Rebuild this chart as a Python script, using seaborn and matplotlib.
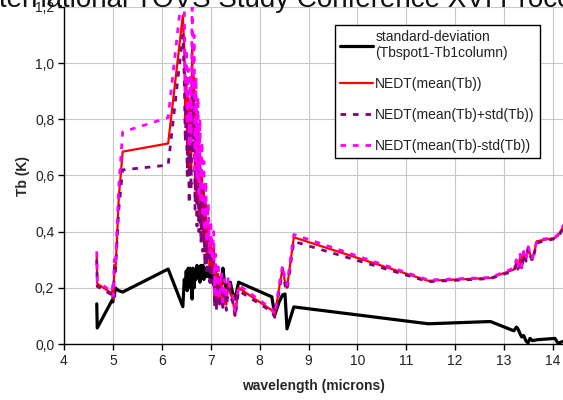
import matplotlib
matplotlib.use("Agg")
import matplotlib.pyplot as plt
import seaborn as sns
import pandas as pd

# ---- data ----
wavelength = [4.67, 4.68, 4.98, 5.00, 5.01, 5.03, 5.05, 5.08, 5.12, 5.20, 6.13, 6.43,
              6.46, 6.48, 6.50, 6.52, 6.54, 6.56, 6.58, 6.60, 6.62, 6.64, 6.66, 6.68,
              6.70, 6.72, 6.74, 6.76, 6.78, 6.80, 6.82, 6.84, 6.86, 6.88, 6.90, 6.92,
              6.95, 6.98, 7.00, 7.03, 7.06, 7.08, 7.10, 7.12, 7.15, 7.18, 7.22, 7.25,
              7.28, 7.32, 7.36, 7.40, 7.45, 7.50, 7.57, 8.25, 8.31, 8.40, 8.47, 8.52,
              8.56, 8.70, 11.45, 12.72, 13.20, 13.25, 13.28, 13.33, 13.36, 13.40, 13.45,
              13.49, 13.53, 13.58, 13.67, 14.04, 14.10, 14.22]

std_dev = [0.143, 0.057, 0.155, 0.150, 0.190, 0.170, 0.200, 0.195, 0.190, 0.185, 0.267, 0.133,
           0.230, 0.200, 0.260, 0.190, 0.270, 0.200, 0.270, 0.220, 0.160, 0.270, 0.200, 0.260,
           0.230, 0.280, 0.240, 0.270, 0.220, 0.280, 0.250, 0.280, 0.230, 0.270, 0.240, 0.260,
           0.240, 0.270, 0.220, 0.250, 0.210, 0.270, 0.260, 0.200, 0.240, 0.200, 0.210, 0.270,
           0.220, 0.200, 0.210, 0.220, 0.180, 0.160, 0.220, 0.168, 0.103, 0.150, 0.175, 0.178,
           0.054, 0.132, 0.072, 0.080, 0.047, 0.060, 0.055, 0.035, 0.025, 0.030, 0.010,
           0.004, 0.020, 0.012, 0.015, 0.020, 0.003, 0.010]

nedt_mean = [0.310, 0.215, 0.180, 0.200, 0.160, 0.280, 0.260, 0.360, 0.520, 0.685, 0.714, 1.170,
             1.050, 0.800, 0.950, 0.680, 0.880, 0.600, 0.850, 0.620, 1.060, 0.750, 0.950, 0.550,
             0.850, 0.500, 0.780, 0.450, 0.700, 0.420, 0.620, 0.380, 0.550, 0.330, 0.500, 0.300,
             0.420, 0.260, 0.380, 0.250, 0.340, 0.150, 0.280, 0.140, 0.250, 0.140, 0.230, 0.130,
             0.200, 0.140, 0.220, 0.180, 0.160, 0.100, 0.200, 0.120, 0.100, 0.200, 0.270, 0.220,
             0.200, 0.380, 0.225, 0.235, 0.265, 0.290, 0.265, 0.310, 0.270, 0.325, 0.300,
             0.347, 0.320, 0.300, 0.366, 0.378, 0.385, 0.420]

nedt_plus = [0.300, 0.205, 0.175, 0.190, 0.150, 0.270, 0.250, 0.350, 0.480, 0.620, 0.637, 1.100,
             0.950, 0.720, 0.850, 0.600, 0.780, 0.500, 0.750, 0.550, 0.950, 0.680, 0.880, 0.480,
             0.780, 0.420, 0.700, 0.400, 0.640, 0.360, 0.550, 0.330, 0.500, 0.280, 0.450, 0.260,
             0.380, 0.220, 0.330, 0.220, 0.300, 0.130, 0.250, 0.120, 0.220, 0.130, 0.210, 0.120,
             0.180, 0.120, 0.200, 0.170, 0.150, 0.095, 0.190, 0.115, 0.095, 0.190, 0.260, 0.210,
             0.190, 0.365, 0.222, 0.233, 0.260, 0.280, 0.260, 0.300, 0.265, 0.320, 0.295,
             0.340, 0.315, 0.295, 0.360, 0.375, 0.380, 0.415]

nedt_minus = [0.330, 0.225, 0.185, 0.210, 0.170, 0.300, 0.280, 0.400, 0.560, 0.755, 0.806, 1.280,
              1.200, 0.900, 1.050, 0.780, 0.980, 0.700, 0.950, 0.720, 1.220, 0.900, 1.100, 0.620,
              0.950, 0.580, 0.880, 0.520, 0.800, 0.500, 0.720, 0.450, 0.650, 0.400, 0.580, 0.360,
              0.500, 0.320, 0.440, 0.300, 0.400, 0.180, 0.320, 0.160, 0.290, 0.160, 0.260, 0.150,
              0.230, 0.160, 0.240, 0.200, 0.180, 0.110, 0.210, 0.125, 0.105, 0.210, 0.280, 0.230,
              0.210, 0.390, 0.228, 0.237, 0.270, 0.300, 0.270, 0.320, 0.275, 0.330, 0.305,
              0.350, 0.325, 0.305, 0.370, 0.380, 0.390, 0.425]

labels = ["standard-deviation\n(Tbspot1-Tb1column)", "NEDT(mean(Tb))",
          "NEDT(mean(Tb)+std(Tb))", "NEDT(mean(Tb)-std(Tb))"]
x_ticks = [4, 5, 6, 7, 8, 9, 10, 11, 12, 13, 14]
y_ticks = [0.0, 0.2, 0.4, 0.6, 0.8, 1.0, 1.2]
y_tick_labels = ["0,0", "0,2", "0,4", "0,6", "0,8", "1,0", "1,2"]
title_text = "International TOVS Study Conference XVI Proceedings"

df = pd.DataFrame({"wavelength": wavelength, "std": std_dev, "mean": nedt_mean,
                   "plus": nedt_plus, "minus": nedt_minus})

# ---- style ----
sns.set_style("white")
plt.rcParams["font.family"] = ["Liberation Sans", "DejaVu Sans"]

fig = plt.figure(figsize=(5.63, 4.0), dpi=100)
W, H = 563, 400
ax = fig.add_axes([64 / W, (H - 344) / H, (W - 64) / W, (344 - 7) / H])

series = [
    ("std", labels[0], "black", 2.3, "-"),
    ("mean", labels[1], "#FF0000", 1.6, "-"),
    ("plus", labels[2], "#800080", 2.0, (0, (2.0, 2.5))),
    ("minus", labels[3], "#FF00FF", 2.0, (0, (2.0, 2.5))),
]
for col, lab, color, lw, ls in series:
    sns.lineplot(data=df, x="wavelength", y=col, sort=False, estimator=None,
                 color=color, lw=lw, linestyle=ls, label=lab, ax=ax)

ax.set_xlim(4, 4 + (W - 64) / 48.9)
ax.set_ylim(0, 1.2)
ax.set_xticks(x_ticks)
ax.set_xticklabels([str(t) for t in x_ticks])
ax.set_yticks(y_ticks)
ax.set_yticklabels(y_tick_labels)
ax.grid(True, color="#C8C8C8", lw=0.8)
ax.set_axisbelow(True)
for s in ["top", "right"]:
    ax.spines[s].set_visible(False)
for s in ["left", "bottom"]:
    ax.spines[s].set_color("black")
    ax.spines[s].set_linewidth(1.0)
ax.tick_params(axis="both", which="both", direction="out", length=4, width=1,
               color="black", labelsize=10, labelcolor="#222222", pad=3)
ax.tick_params(axis="x", bottom=True)
ax.tick_params(axis="y", left=True)

ax.set_xlabel("wavelength (microns)", fontsize=10, fontweight="bold", labelpad=8)
ax.set_ylabel("Tb (K)", fontsize=10, fontweight="bold", labelpad=3.5)

leg = ax.legend(loc="upper left", bbox_to_anchor=(335 / W, 1 - 25 / H),
                bbox_transform=fig.transFigure, fontsize=10, frameon=True,
                fancybox=False, framealpha=1, edgecolor="black",
                handlelength=2.4, handletextpad=0.15, labelspacing=1.22,
                borderpad=0.35, borderaxespad=0)
leg.get_frame().set_linewidth(1.0)
for t in leg.get_texts():
    t.set_color("#222222")

fig.text(-24 / W, 1 - 7 / H, title_text, fontsize=20, va="baseline", ha="left",
         color="#111111")

fig.savefig("out.png", dpi=100)
